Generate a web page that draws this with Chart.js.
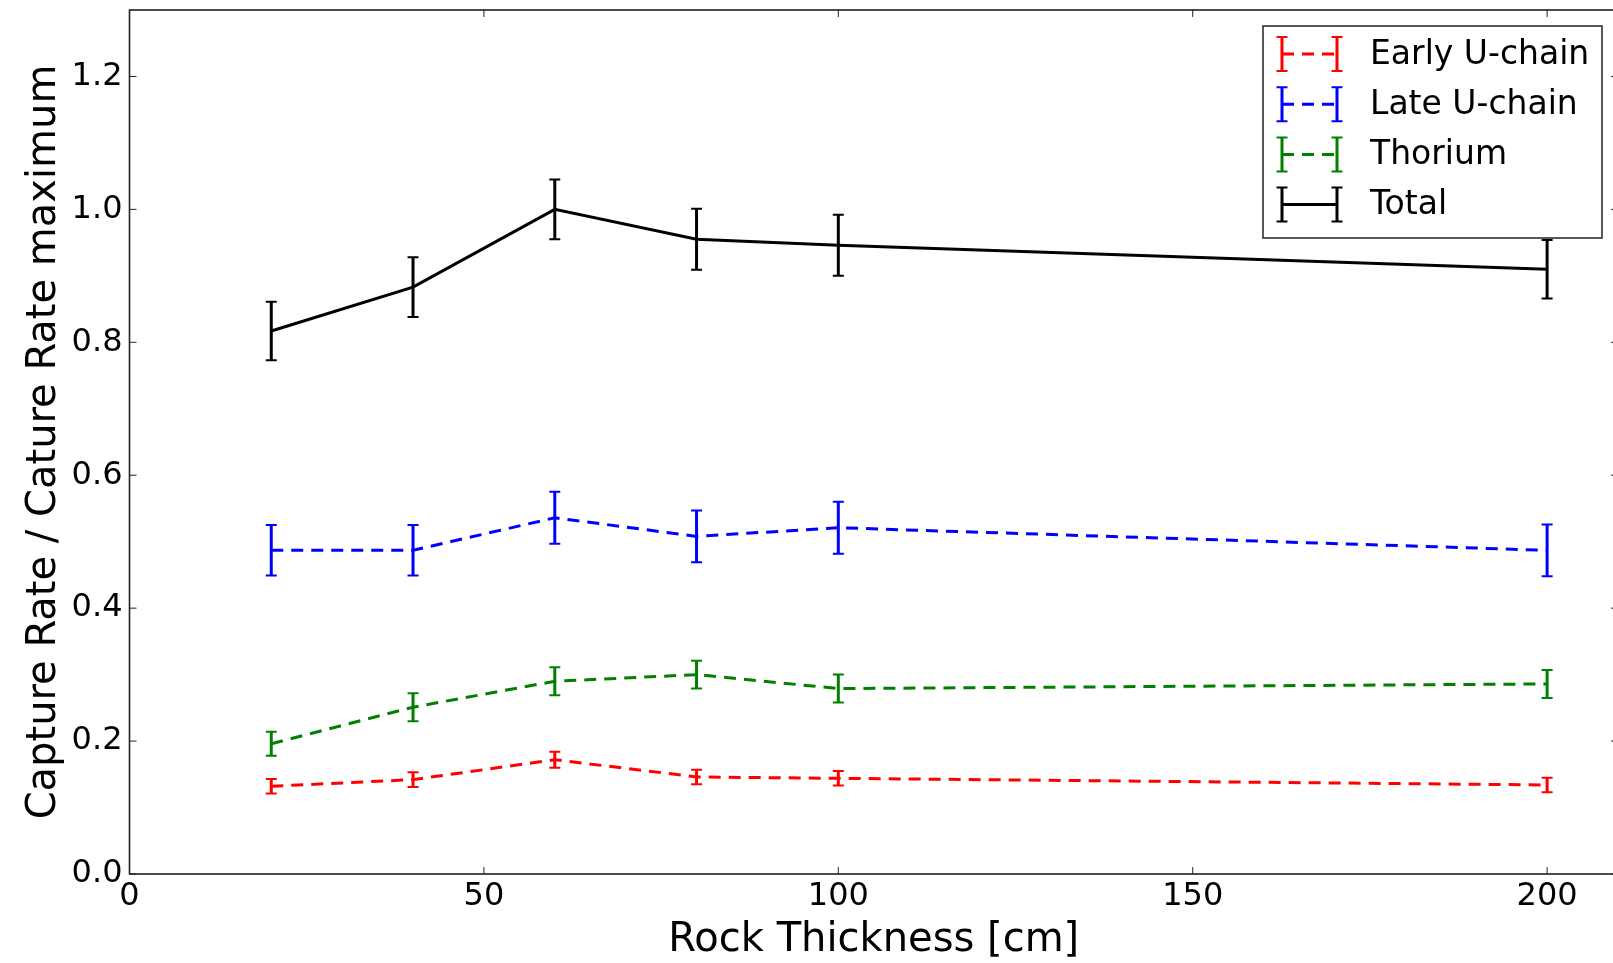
<!DOCTYPE html>
<html lang="en">
<head>
<meta charset="UTF-8">
<title>Capture Rate vs Rock Thickness</title>
<script src="https://cdn.jsdelivr.net/npm/chart.js"></script>
<style>
  html, body { margin: 0; padding: 0; background: #fff; overflow: hidden; }
  #wrap { position: absolute; left: 0; top: 0; width: 1640px; height: 963px; }
</style>
</head>
<body>
<div id="wrap"><canvas id="rateChart" width="1640" height="963"></canvas></div>
<script>
// rock thickness in cm
const thickness = [20, 40, 60, 80, 100, 200];

// capture rate normalised to the maximum, with errors
const earlyU     = [0.132, 0.142, 0.172, 0.146, 0.144, 0.134];
const earlyUErr  = [0.011, 0.011, 0.012, 0.011, 0.011, 0.011];
const lateU      = [0.487, 0.487, 0.536, 0.508, 0.521, 0.487];
const lateUErr   = [0.038, 0.038, 0.039, 0.039, 0.039, 0.039];
const thorium    = [0.196, 0.251, 0.290, 0.300, 0.279, 0.286];
const thoriumErr = [0.018, 0.021, 0.021, 0.021, 0.021, 0.021];
const total      = [0.817, 0.883, 1.000, 0.955, 0.946, 0.910];
const totalErr   = [0.044, 0.045, 0.045, 0.046, 0.046, 0.044];

const xTicks = [0, 50, 100, 150, 200];
const yTicks = [0.0, 0.2, 0.4, 0.6, 0.8, 1.0, 1.2];

const FONT = "'DejaVu Sans', sans-serif";

const series = [
  { label: 'Early U-chain', color: '#ff0000', values: earlyU,  err: earlyUErr,  dashed: true },
  { label: 'Late U-chain',  color: '#0000ff', values: lateU,   err: lateUErr,   dashed: true },
  { label: 'Thorium',       color: '#008000', values: thorium, err: thoriumErr, dashed: true },
  { label: 'Total',         color: '#000000', values: total,   err: totalErr,   dashed: false }
];

const DASH = [12, 8];
const CAP = 5.5;

function toPoints(vals) {
  return thickness.map((t, i) => ({ x: t, y: vals[i] }));
}

function errBar(ctx, px, top, bot) {
  ctx.lineWidth = 3;
  ctx.beginPath();
  ctx.moveTo(px, top);
  ctx.lineTo(px, bot);
  ctx.stroke();
  ctx.lineWidth = 2;
  ctx.beginPath();
  ctx.moveTo(px - CAP, top); ctx.lineTo(px + CAP, top);
  ctx.moveTo(px - CAP, bot); ctx.lineTo(px + CAP, bot);
  ctx.stroke();
}

// no extra room for half tick labels, the plot box is fixed
function noEdgePadding(s) {
  s.paddingTop = 0;
  s.paddingBottom = 0;
  s.paddingLeft = 0;
  s.paddingRight = 0;
}

// vertical error bars at every point
const errorBars = {
  id: 'errorBars',
  afterDatasetsDraw(chart) {
    const { ctx, scales: { x, y } } = chart;
    series.forEach(s => {
      ctx.save();
      ctx.strokeStyle = s.color;
      ctx.setLineDash([]);
      s.values.forEach((v, j) => {
        const px = x.getPixelForValue(thickness[j]);
        errBar(ctx, px, y.getPixelForValue(v + s.err[j]), y.getPixelForValue(v - s.err[j]));
      });
      ctx.restore();
    });
  }
};

// box around the plot with inward ticks on all four sides
const frame = {
  id: 'frame',
  afterDatasetsDraw(chart) {
    const { ctx, chartArea: a, scales: { x, y } } = chart;
    ctx.save();
    ctx.strokeStyle = '#222';
    ctx.lineWidth = 1;
    ctx.beginPath();
    xTicks.forEach(v => {
      const px = x.getPixelForValue(v);
      ctx.moveTo(px, a.bottom); ctx.lineTo(px, a.bottom - 7);
      ctx.moveTo(px, a.top);    ctx.lineTo(px, a.top + 7);
    });
    yTicks.forEach(v => {
      const py = y.getPixelForValue(v);
      ctx.moveTo(a.left, py);  ctx.lineTo(a.left + 7, py);
      ctx.moveTo(a.right, py); ctx.lineTo(a.right - 7, py);
    });
    ctx.stroke();
    ctx.lineWidth = 1.6;
    ctx.strokeRect(a.left, a.top, a.right - a.left, a.bottom - a.top);
    ctx.restore();
  }
};

// legend box in the upper right corner
const boxLegend = {
  id: 'boxLegend',
  afterDraw(chart) {
    const { ctx, chartArea: a } = chart;
    const w = 339, h = 212;
    const left = a.right - 16 - w, top = a.top + 16;
    ctx.save();
    ctx.fillStyle = '#fff';
    ctx.fillRect(left, top, w, h);
    ctx.strokeStyle = '#222';
    ctx.lineWidth = 1.5;
    ctx.strokeRect(left, top, w, h);
    ctx.font = '33px ' + FONT;
    ctx.textBaseline = 'middle';
    series.forEach((s, i) => {
      const cy = top + 28 + i * 50.2;
      const x0 = left + 19, x1 = left + 74;
      ctx.strokeStyle = s.color;
      ctx.lineWidth = 3;
      ctx.setLineDash(s.dashed ? DASH : []);
      ctx.beginPath();
      ctx.moveTo(x0, cy);
      ctx.lineTo(x1, cy);
      ctx.stroke();
      ctx.setLineDash([]);
      errBar(ctx, x0, cy - 17, cy + 17);
      errBar(ctx, x1, cy - 17, cy + 17);
      ctx.fillStyle = '#000';
      ctx.fillText(s.label, left + 107, cy + 1);
    });
    ctx.restore();
  }
};

new Chart(document.getElementById('rateChart'), {
  type: 'line',
  data: {
    datasets: series.map(s => ({
      label: s.label,
      data: toPoints(s.values),
      borderColor: s.color,
      borderWidth: 3,
      borderDash: s.dashed ? DASH : [],
      pointRadius: 0,
      fill: false,
      tension: 0
    }))
  },
  options: {
    responsive: false,
    animation: false,
    devicePixelRatio: 1,
    layout: { padding: { top: 10, right: 22, left: 0, bottom: 0 } },
    plugins: { legend: { display: false }, tooltip: { enabled: false } },
    scales: {
      x: {
        type: 'linear',
        min: 0,
        max: 210,
        afterBuildTicks: s => { s.ticks = xTicks.map(v => ({ value: v })); },
        afterFit: s => { s.height = 89; noEdgePadding(s); },
        grid: { display: false, drawTicks: false },
        border: { display: false },
        ticks: {
          padding: 3, color: '#000', autoSkip: false, maxRotation: 0,
          font: { family: FONT, size: 32 },
          callback: v => String(v)
        },
        title: {
          display: true, text: 'Rock Thickness [cm]', color: '#000',
          font: { family: FONT, size: 40, lineHeight: 1 },
          padding: { top: 0, bottom: 2 }
        }
      },
      y: {
        type: 'linear',
        min: 0,
        max: 1.3,
        afterBuildTicks: s => { s.ticks = yTicks.map(v => ({ value: v })); },
        afterFit: s => { s.width = 129.5; noEdgePadding(s); },
        grid: { display: false, drawTicks: false },
        border: { display: false },
        ticks: {
          padding: 7, color: '#000', autoSkip: false,
          font: { family: FONT, size: 32 },
          callback: v => v.toFixed(1)
        },
        title: {
          display: true, text: 'Capture Rate / Cature Rate maximum', color: '#000',
          font: { family: FONT, size: 40, lineHeight: 1 },
          padding: { top: 25, bottom: 0 }
        }
      }
    }
  },
  plugins: [errorBars, frame, boxLegend]
});
</script>
</body>
</html>
